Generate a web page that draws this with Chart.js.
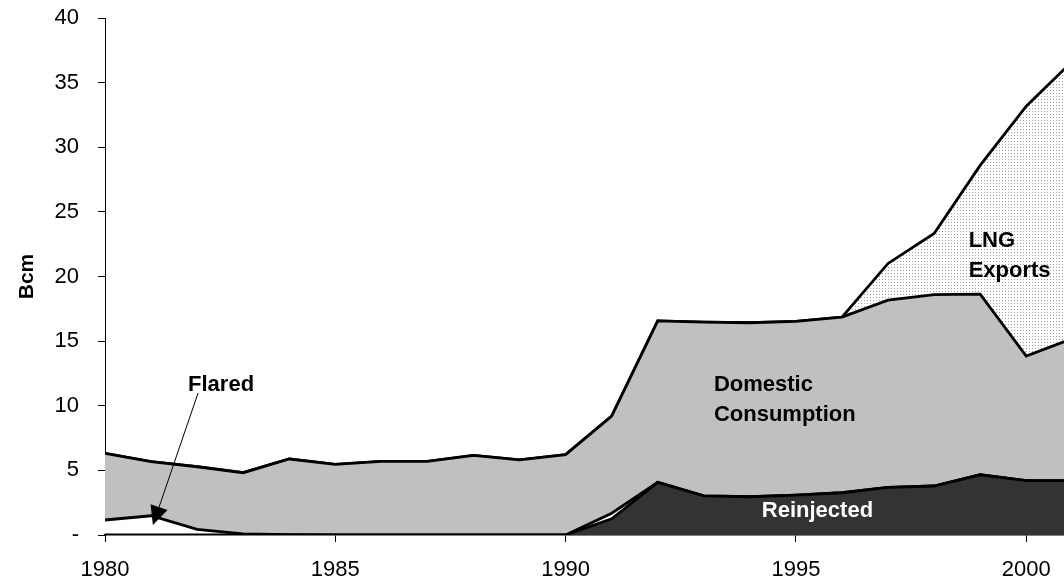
<!DOCTYPE html>
<html lang="en">
<head>
    <meta charset="UTF-8">
    <title>Gas utilisation</title>
    <script src="https://cdn.jsdelivr.net/npm/chart.js"></script>
    <style>
        html, body { margin: 0; padding: 0; background: #fff; }
        #wrap { width: 1064px; height: 583px; }
    </style>
</head>
<body>
    <div id="wrap"><canvas id="gasChart" width="1064" height="583"></canvas></div>

    <script>
        // Datos (Bcm)
        const years = [1980, 1981, 1982, 1983, 1984, 1985, 1986, 1987, 1988, 1989, 1990,
                       1991, 1992, 1993, 1994, 1995, 1996, 1997, 1998, 1999, 2000, 2001];
        const reinjected = [0, 0, 0, 0, 0, 0, 0, 0, 0, 0, 0,
                            1.25, 4.07, 3.02, 2.96, 3.09, 3.27, 3.69, 3.79, 4.66, 4.2, 4.2];
        const flared = [1.16, 1.49, 0.44, 0.08, 0.02, 0, 0, 0, 0, 0, 0,
                        0.43, 0, 0, 0, 0, 0, 0, 0, 0, 0, 0];
        const domestic = [5.16, 4.18, 4.84, 4.74, 5.86, 5.47, 5.7, 5.7, 6.16, 5.82, 6.22,
                          7.52, 12.5, 13.45, 13.46, 13.44, 13.59, 14.48, 14.8, 13.98, 9.64, 11.0];
        const lngExports = [0, 0, 0, 0, 0, 0, 0, 0, 0, 0, 0,
                            0, 0, 0, 0, 0, 0, 2.84, 4.74, 9.96, 19.34, 21.45];
        const yTicks = [0, 5, 10, 15, 20, 25, 30, 35, 40];

        const pts = arr => arr.map((v, i) => ({ x: years[i], y: v }));

        // Trama punteada para las exportaciones de GNL
        function dotPattern() {
            const c = document.createElement('canvas');
            c.width = 3; c.height = 3;
            const g = c.getContext('2d');
            g.fillStyle = '#ffffff';
            g.fillRect(0, 0, 3, 3);
            g.fillStyle = '#a0a0a0';
            g.fillRect(0, 0, 1, 1);
            return g.createPattern(c, 'repeat');
        }

        const FONT = "'Liberation Sans', Arial, sans-serif";

        // Etiquetas dentro del gráfico (posición en coordenadas de datos)
        const notes = [
            { text: 'Flared', x: 1982.52, y: 11.6, align: 'center', color: '#000' },
            { text: 'Domestic', x: 1993.22, y: 11.6, align: 'left', color: '#000' },
            { text: 'Consumption', x: 1993.22, y: 9.28, align: 'left', color: '#000' },
            { text: 'Reinjected', x: 1994.26, y: 1.86, align: 'left', color: '#fff' },
            { text: 'LNG', x: 1998.75, y: 22.74, align: 'left', color: '#000' },
            { text: 'Exports', x: 1998.75, y: 20.42, align: 'left', color: '#000' }
        ];

        const notesPlugin = {
            id: 'notes',
            afterDatasetsDraw(chart) {
                const ctx = chart.ctx;
                const xs = chart.scales.x, ys = chart.scales.y;
                ctx.save();
                ctx.font = 'bold 22px ' + FONT;
                ctx.textBaseline = 'middle';
                notes.forEach(n => {
                    ctx.fillStyle = n.color;
                    ctx.textAlign = n.align;
                    ctx.fillText(n.text, xs.getPixelForValue(n.x), ys.getPixelForValue(n.y));
                });
                // flecha de "Flared"
                const x0 = xs.getPixelForValue(1982.02), y0 = ys.getPixelForValue(10.98);
                const x1 = xs.getPixelForValue(1981.04), y1 = ys.getPixelForValue(0.77);
                const ang = Math.atan2(y1 - y0, x1 - x0);
                const hl = 19, hw = 9;
                const bx = x1 - hl * Math.cos(ang), by = y1 - hl * Math.sin(ang);
                ctx.strokeStyle = '#000';
                ctx.lineWidth = 1;
                ctx.beginPath();
                ctx.moveTo(x0, y0);
                ctx.lineTo(bx, by);
                ctx.stroke();
                ctx.fillStyle = '#000';
                ctx.beginPath();
                ctx.moveTo(x1, y1);
                ctx.lineTo(bx + hw * Math.sin(ang), by - hw * Math.cos(ang));
                ctx.lineTo(bx - hw * Math.sin(ang), by + hw * Math.cos(ang));
                ctx.closePath();
                ctx.fill();
                ctx.restore();
            }
        };

        const ctx = document.getElementById('gasChart').getContext('2d');
        const common = { pointRadius: 0, borderColor: '#000', borderWidth: 2.8, tension: 0 };

        new Chart(ctx, {
            type: 'line',
            data: {
                datasets: [
                    { ...common, label: 'Reinjected', data: pts(reinjected), backgroundColor: '#333333', fill: 'origin' },
                    { ...common, label: 'Flared', data: pts(flared), backgroundColor: '#ffffff', fill: '-1' },
                    { ...common, label: 'Domestic Consumption', data: pts(domestic), backgroundColor: '#c0c0c0', fill: '-1' },
                    { ...common, label: 'LNG Exports', data: pts(lngExports), backgroundColor: dotPattern(), fill: '-1' }
                ]
            },
            options: {
                responsive: false,
                animation: false,
                layout: { padding: { top: 18, right: 0, bottom: 0, left: 0 } },
                plugins: { legend: { display: false }, tooltip: { enabled: false } },
                scales: {
                    x: {
                        type: 'linear',
                        min: 1980,
                        max: 2000.82,
                        grid: { drawOnChartArea: false, drawTicks: true, tickLength: 7, color: '#000' },
                        border: { color: '#000', width: 1.5 },
                        ticks: {
                            stepSize: 5,
                            includeBounds: false,
                            color: '#000',
                            padding: 15,
                            maxRotation: 0,
                            font: { family: FONT, size: 22 },
                            callback: v => String(v)
                        },
                        afterFit: s => { s.height = 48; s.paddingLeft = 0; s.paddingRight = 0; }
                    },
                    y: {
                        stacked: true,
                        min: 0,
                        max: 40,
                        afterBuildTicks: s => { s.ticks = yTicks.map(v => ({ value: v })); },
                        grid: { drawOnChartArea: false, drawTicks: true, tickLength: 7, color: '#000' },
                        border: { color: '#000', width: 1 },
                        ticks: {
                            color: '#000',
                            padding: 19,
                            font: { family: FONT, size: 22 },
                            callback: v => (v === 0 ? '-' : String(v))
                        },
                        title: {
                            display: true,
                            text: 'Bcm',
                            color: '#000',
                            font: { family: FONT, size: 21, weight: 'bold' },
                            padding: { top: 15, bottom: 0 }
                        },
                        afterFit: s => { s.width = 105; s.paddingTop = 0; s.paddingBottom = 0; }
                    }
                }
            },
            plugins: [notesPlugin]
        });
    </script>
</body>
</html>
